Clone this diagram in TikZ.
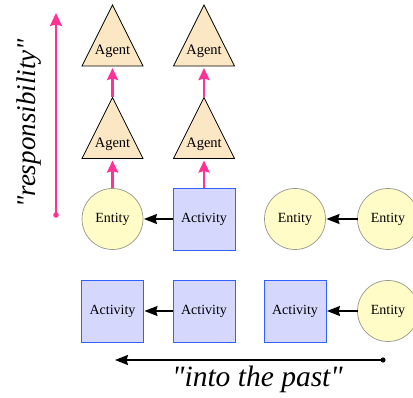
\documentclass[tikz,border=0pt]{standalone}
\usepackage{fontspec}
\setmainfont{Liberation Serif}[Ligatures=TeXOff]
\usetikzlibrary{arrows.meta}
\definecolor{agentfill}{RGB}{252,231,196}
\definecolor{entfill}{RGB}{255,252,200}
\definecolor{entdraw}{RGB}{150,150,140}
\definecolor{actfill}{RGB}{213,215,253}
\definecolor{actdraw}{RGB}{48,96,255}
\definecolor{pinkc}{RGB}{255,50,150}
\newcommand{\agentat}[3]{% name, x, y(base)
  \coordinate (#1-base) at (#2,#3);
  \coordinate (#1-apex) at (#2,#3-61);
  \draw[agentshape] ([xshift=-30.5pt]#1-base) -- (#1-apex) -- ([xshift=30.5pt]#1-base) -- cycle;
  \node[lbl, anchor=base] (#1) at ([yshift=11pt]#1-base) {Agent};
}
\tikzset{
  agentshape/.style={fill=agentfill, draw=black, line width=0.8pt, line join=miter},
  lbl/.style={font=\fontsize{14.5}{16}\selectfont, inner sep=0pt},
  entity/.style={circle, minimum size=61pt, inner sep=0pt, outer sep=0pt, fill=entfill, draw=entdraw, line width=0.7pt, font=\fontsize{14}{16}\selectfont},
  activity/.style={rectangle, minimum size=62pt, inner sep=0pt, outer sep=0pt, fill=actfill, draw=actdraw, line width=0.9pt, font=\fontsize{14}{16}\selectfont},
  pinkarrow/.style={draw=pinkc, line width=2.5pt, -{Stealth[length=12pt,width=11pt,inset=1.5pt]}, shorten >=2pt},
  blackarrow/.style={draw=black, line width=2pt, -{Stealth[length=13pt,width=10pt,inset=1.5pt]}, shorten >=1pt},
  bigtext/.style={font=\fontsize{29.5}{31}\selectfont\itshape, inner sep=0pt},
}
\begin{document}
\begin{tikzpicture}[x=1pt,y=-1pt]
\useasboundingbox (0,0) rectangle (413,398);
% agents
\agentat{a1}{112.5}{66}
\agentat{a2}{112.5}{158.5}
\agentat{a3}{204}{66}
\agentat{a4}{204}{158.5}
% row 1
\node[entity] (e1) at (112.5,219) {Entity};
\node[activity] (c1) at (204,219) {Activity};
\node[entity] (e2) at (295,219) {Entity};
\node[entity] (e3) at (388,219) {Entity};
% row 2
\node[activity] (c2) at (112.5,311) {Activity};
\node[activity] (c3) at (204,311) {Activity};
\node[activity] (c4) at (295,311) {Activity};
\node[entity] (e4) at (388,311) {Entity};
% pink arrows
\draw[pinkarrow] (e1.north) -- (a2-base);
\draw[pinkarrow] (a2-apex) -- (a1-base);
\draw[pinkarrow] (c1.north) -- (a4-base);
\draw[pinkarrow] (a4-apex) -- (a3-base);
% black arrows
\draw[blackarrow] (c1.west) -- (e1.east);
\draw[blackarrow] (e3.west) -- (e2.east);
\draw[blackarrow] (c3.west) -- (c2.east);
\draw[blackarrow] (e4.west) -- (c4.east);
% responsibility
\coordinate (rs) at (56,215);
\coordinate (re) at (56,13);
\fill[pinkc] (rs) circle (2.8pt);
\draw[draw=pinkc, line width=2.2pt, -{Stealth[length=13pt,width=12pt,inset=1.5pt]}] (rs) -- (re);
\node[bigtext, font=\fontsize{27}{29}\selectfont\itshape, rotate=90, anchor=base] (rt) at (35,123.5) {"responsibility"};
% into the past
\coordinate (ps) at (383,360);
\coordinate (pe) at (115,360);
\fill[black] (ps) circle (2.6pt);
\draw[draw=black, line width=2pt, -{Stealth[length=13pt,width=10pt,inset=1.5pt]}] (ps) -- (pe);
\node[bigtext, anchor=base] (pt) at (257.5,387) {"into the past"};
\end{tikzpicture}
\end{document}
